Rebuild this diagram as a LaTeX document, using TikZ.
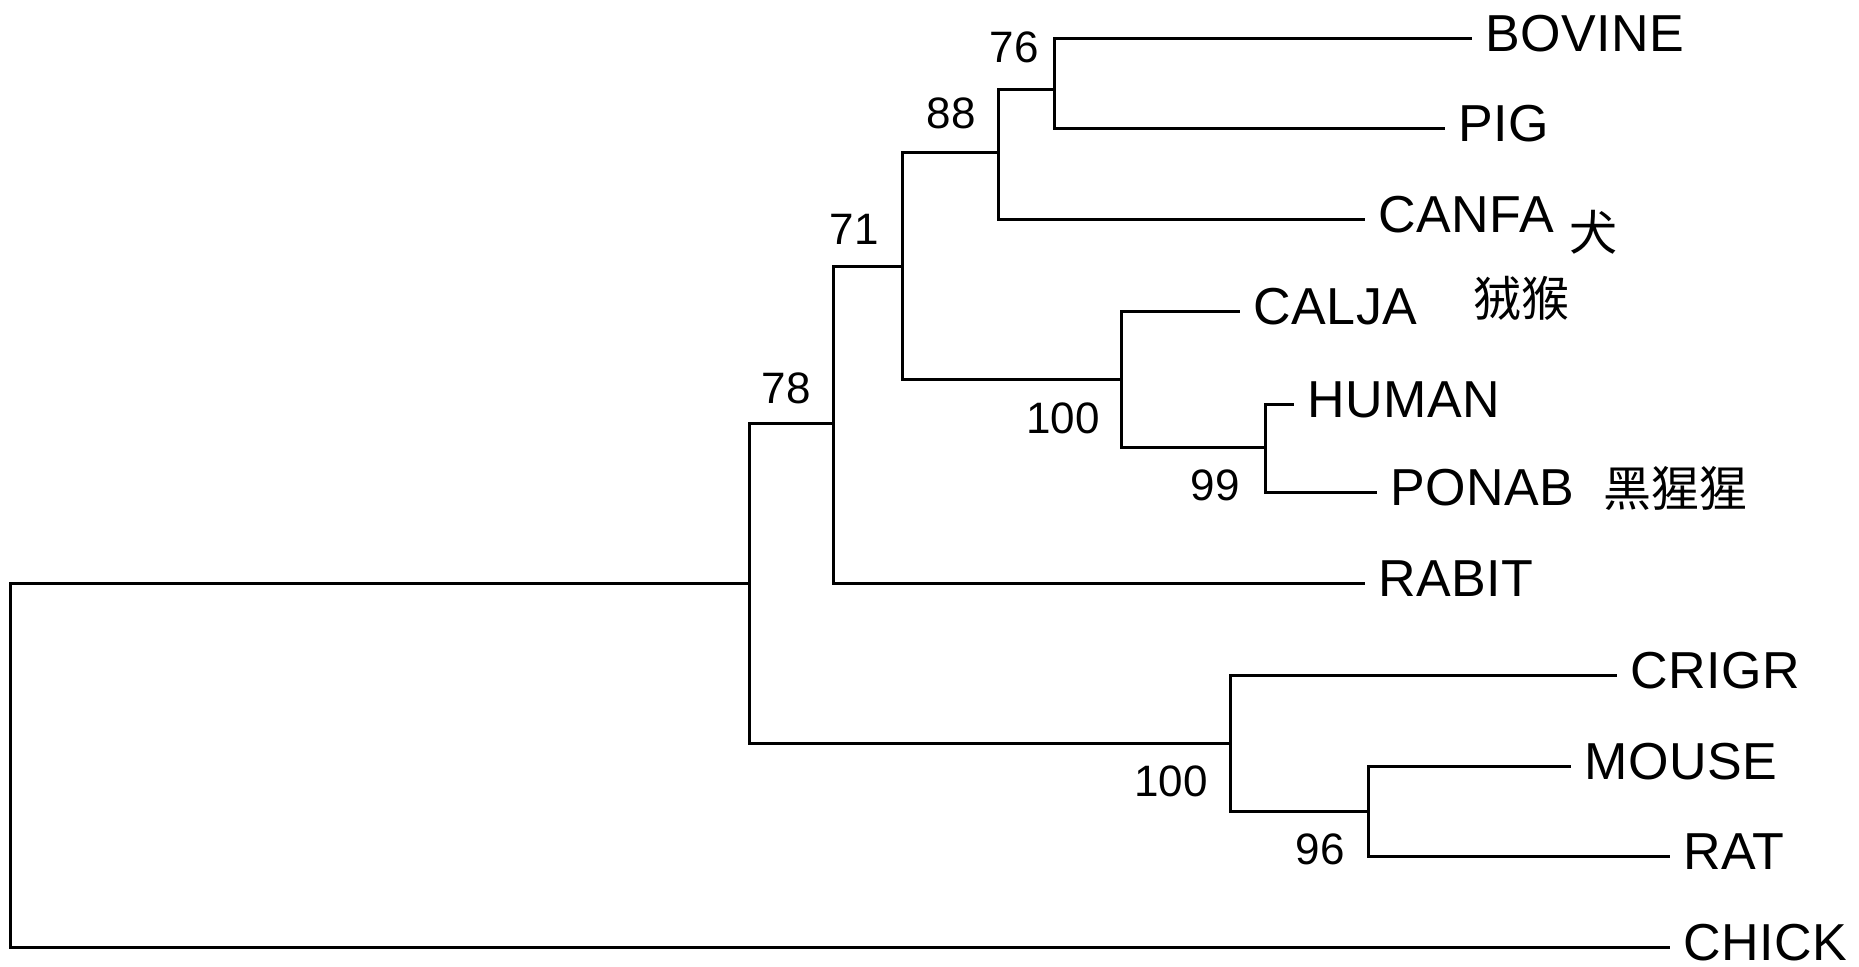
\documentclass[tikz,border=0pt]{standalone}
\usepackage{fontspec}
\setmainfont{Liberation Sans}
\newfontfamily\cjk{Noto Sans CJK SC}
\begin{document}
\begin{tikzpicture}[x=0.5pt,y=-0.5pt,
  branch/.style={line width=1.5pt,line cap=rect},
  leaf/.style={anchor=west,inner sep=0pt,xshift=7.5pt,yshift=2.5pt,
    font=\fontsize{26}{30}\selectfont\addfontfeature{LetterSpace=1},text height=18.6pt,text depth=0pt},
  boot/.style={inner sep=0pt,font=\fontsize{22}{26}\selectfont},
  cn/.style={inner sep=0pt,font=\cjk\fontsize{24}{28}\selectfont}]
\useasboundingbox (0,0) rectangle (1859,966);
% internal nodes
\coordinate (root) at (10.7,583);
\coordinate (n78) at (749,583);
\coordinate (n71) at (833.5,423);
\coordinate (nA) at (902,266);
\coordinate (n88) at (998,152);
\coordinate (n76) at (1054,89);
\coordinate (nP) at (1121.6,379);
\coordinate (n99) at (1265,447);
\coordinate (nR) at (1230.7,743);
\coordinate (n96) at (1368,811);
% leaf ends
\coordinate (bovine) at (1470,38);
\coordinate (pig) at (1443,128);
\coordinate (canfa) at (1363,219);
\coordinate (calja) at (1238,311);
\coordinate (human) at (1292,404);
\coordinate (ponab) at (1375,492);
\coordinate (rabit) at (1363,583);
\coordinate (crigr) at (1615,675);
\coordinate (mouse) at (1569,766);
\coordinate (rat) at (1668,856);
\coordinate (chick) at (1668,947);
% branches
\draw[branch] (root) |- (n78);
\draw[branch] (root) |- (chick);
\draw[branch] (n78) |- (n71);
\draw[branch] (n78) |- (nR);
\draw[branch] (n71) |- (nA);
\draw[branch] (n71) |- (rabit);
\draw[branch] (nA) |- (n88);
\draw[branch] (nA) |- (nP);
\draw[branch] (n88) |- (n76);
\draw[branch] (n88) |- (canfa);
\draw[branch] (n76) |- (bovine);
\draw[branch] (n76) |- (pig);
\draw[branch] (nP) |- (calja);
\draw[branch] (nP) |- (n99);
\draw[branch] (n99) |- (human);
\draw[branch] (n99) |- (ponab);
\draw[branch] (nR) |- (crigr);
\draw[branch] (nR) |- (n96);
\draw[branch] (n96) |- (mouse);
\draw[branch] (n96) |- (rat);
% leaf labels
\node[leaf] (lbovine) at (bovine) {BOVINE};
\node[leaf] (lpig) at (pig) {PIG};
\node[leaf] (lcanfa) at (canfa) {CANFA};
\node[leaf] (lcalja) at (calja) {CALJA};
\node[leaf] (lhuman) at (human) {HUMAN};
\node[leaf] (lponab) at (ponab) {PONAB};
\node[leaf] (lrabit) at (rabit) {RABIT};
\node[leaf] (lcrigr) at (crigr) {CRIGR};
\node[leaf] (lmouse) at (mouse) {MOUSE};
\node[leaf] (lrat) at (rat) {RAT};
\node[leaf] (lchick) at (chick) {CHICK};
% bootstrap values
\node[boot] (b76) at (1014,47) {76};
\node[boot] (b88) at (951,113) {88};
\node[boot] (b71) at (854,229) {71};
\node[boot] (b78) at (786,388) {78};
\node[boot] (b100a) at (1063,418) {100};
\node[boot] (b99) at (1215,485) {99};
\node[boot] (b100b) at (1171,781) {100};
\node[boot] (b96) at (1320,849) {96};
% Chinese notes
\node[cn] (cquan) at (1593,232) {犬};
\node[cn] (cronghou) at (1521,298) {狨猴};
\node[cn] (cheixx) at (1675,488) {黑猩猩};
\end{tikzpicture}
\end{document}
